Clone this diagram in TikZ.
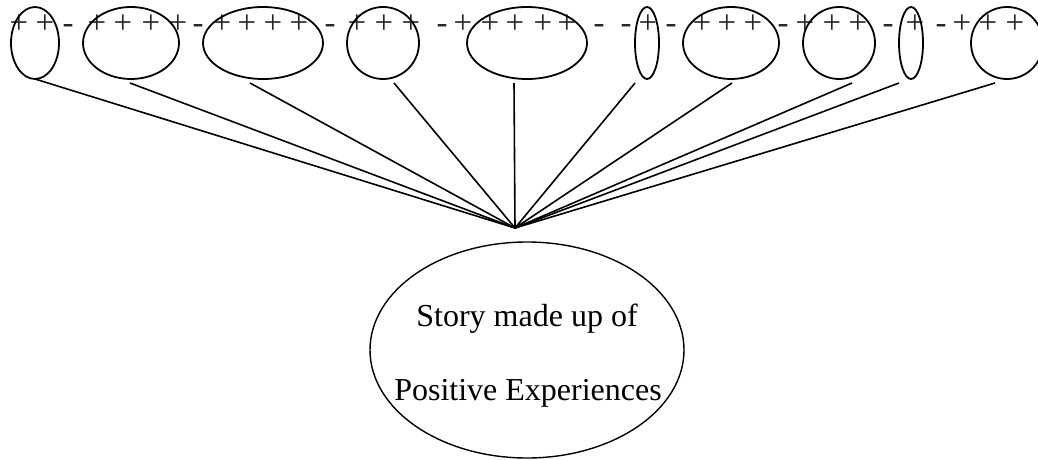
\documentclass[tikz,border=0pt]{standalone}
\usepackage{fontspec}
\setmainfont{Liberation Serif}
\usetikzlibrary{shapes.geometric}

\tikzset{
  bubble/.style={draw, ellipse, line width=1.8pt, inner sep=0pt, outer sep=0pt},
  story/.style={draw, ellipse, line width=1.4pt, inner sep=0pt, outer sep=0pt,
                minimum width=314pt, minimum height=216pt},
  spoke/.style={line width=1.6pt},
  sign/.style={anchor=base, inner sep=0pt, text=black!85,
               font=\fontsize{33}{33}\selectfont},
  caption/.style={anchor=base, inner sep=0pt, font=\fontsize{32}{32}\selectfont}
}

\begin{document}
\begin{tikzpicture}[x=1pt, y=-1pt]
\useasboundingbox (0,0) rectangle (1038,460);
\clip (0,0) rectangle (1038,460);

% row of plus and minus signs
\foreach \px [count=\k] in {19,45,97,123,151,178,222,247,273,299,357,384,411,463,490,515,
                 543,567,648,702,727,753,805,832,858,915,962,988,1015}
  \node[sign] (plus\k) at (\px,34) {+};
\foreach \mx [count=\k] in {68,198,330,442,599,626,671,783,888,941}
  \node[sign] (minus\k) at (\mx,34) {-};

% experience bubbles
\node[bubble, minimum width=48pt,  minimum height=72pt] (e1)  at (35,43)   {};
\node[bubble, minimum width=96pt,  minimum height=72pt] (e2)  at (131,43)  {};
\node[bubble, minimum width=120pt, minimum height=72pt] (e3)  at (263,43)  {};
\node[bubble, minimum width=72pt,  minimum height=72pt] (e4)  at (383,43)  {};
\node[bubble, minimum width=120pt, minimum height=72pt] (e5)  at (527,43)  {};
\node[bubble, minimum width=24pt,  minimum height=72pt] (e6)  at (647,43)  {};
\node[bubble, minimum width=96pt,  minimum height=72pt] (e7)  at (731,43)  {};
\node[bubble, minimum width=72pt,  minimum height=72pt] (e8)  at (839,43)  {};
\node[bubble, minimum width=24pt,  minimum height=72pt] (e9)  at (911,43)  {};
\node[bubble, minimum width=72pt,  minimum height=72pt] (e10) at (1007,43) {};

% spoke start points under the bubbles and the common meeting point
\coordinate (s1)  at (35,79);
\coordinate (s2)  at (130,83);
\coordinate (s3)  at (250,83);
\coordinate (s4)  at (394,83);
\coordinate (s5)  at (514,83);
\coordinate (s6)  at (635,83);
\coordinate (s7)  at (732,83);
\coordinate (s8)  at (852,83);
\coordinate (s9)  at (899,83);
\coordinate (s10) at (995,83);
\coordinate (hub) at (515,228);

\foreach \i in {1,...,10}
  \draw[spoke] (s\i) -- (hub);

% the story
\node[story] (story) at (527,350) {};
\node[caption] (l1) at (527,326) {Story made up of};
\node[caption] (l2) at (528,400) {Positive Experiences};
\end{tikzpicture}
\end{document}
